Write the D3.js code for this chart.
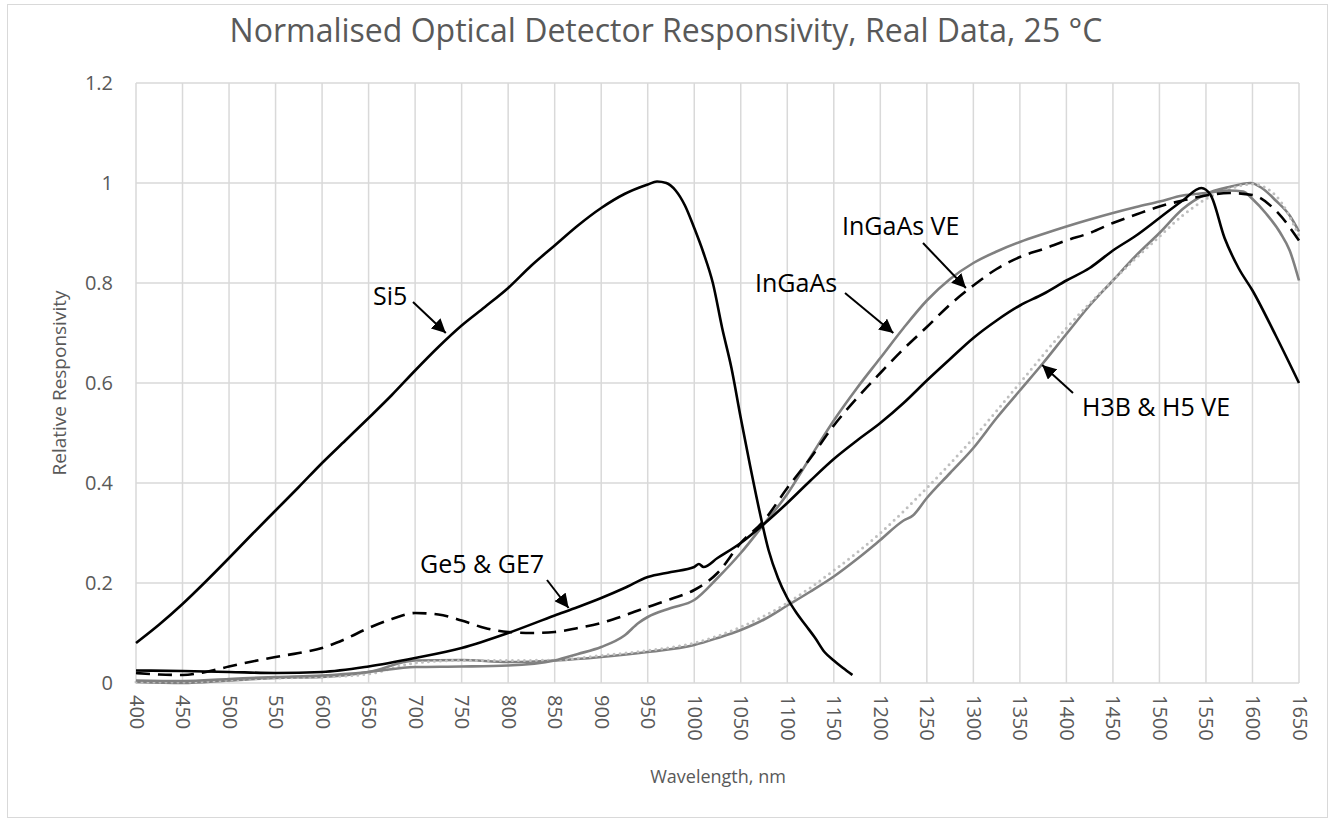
<!DOCTYPE html>
<html>
<head>
<meta charset="utf-8">
<script src="https://cdn.jsdelivr.net/npm/d3@7"></script>
<style>
    body { margin: 0; background: #fff; }
    text { font-family: "Open Sans", sans-serif; }
</style>
</head>
<body>
<script>
//x axis categories (nm) and y ticks
var xTicks = d3.range(400, 1651, 50);
var yTicks = [0, 0.2, 0.4, 0.6, 0.8, 1, 1.2];

//Si5
var siWl  = [400, 425, 450, 475, 500, 525, 550, 575, 600, 625, 650, 675, 700, 725, 750, 775, 800, 825, 850, 875, 900, 925, 950, 960, 970, 980, 990, 1000, 1010, 1020, 1030, 1040, 1050, 1060, 1070, 1080, 1090, 1100, 1110, 1120, 1130, 1140, 1150, 1160, 1170];
var siVal = [0.08, 0.117, 0.158, 0.203, 0.25, 0.298, 0.345, 0.392, 0.44, 0.485, 0.53, 0.576, 0.625, 0.672, 0.715, 0.752, 0.79, 0.835, 0.875, 0.915, 0.95, 0.978, 0.997, 1.003, 1.0, 0.985, 0.955, 0.91, 0.86, 0.8, 0.71, 0.63, 0.53, 0.435, 0.345, 0.265, 0.21, 0.17, 0.14, 0.115, 0.09, 0.062, 0.045, 0.03, 0.016];

//Ge5 & GE7
var geWl  = [400, 450, 500, 550, 600, 650, 700, 750, 800, 850, 875, 900, 925, 950, 975, 1000, 1005, 1010, 1025, 1050, 1075, 1100, 1125, 1150, 1175, 1200, 1225, 1250, 1275, 1300, 1325, 1350, 1375, 1400, 1425, 1450, 1475, 1500, 1525, 1545, 1555, 1570, 1585, 1600, 1625, 1650];
var geVal = [0.025, 0.024, 0.022, 0.02, 0.022, 0.033, 0.05, 0.07, 0.1, 0.135, 0.152, 0.17, 0.19, 0.212, 0.222, 0.232, 0.238, 0.232, 0.25, 0.28, 0.318, 0.36, 0.405, 0.448, 0.485, 0.52, 0.56, 0.605, 0.648, 0.69, 0.725, 0.755, 0.778, 0.805, 0.83, 0.865, 0.895, 0.93, 0.965, 0.99, 0.976, 0.89, 0.83, 0.785, 0.695, 0.6];

//InGaAs VE (dashed)
var veWl  = [400, 425, 450, 475, 500, 525, 550, 575, 600, 625, 650, 675, 700, 725, 750, 775, 800, 825, 850, 875, 900, 925, 950, 975, 1000, 1025, 1050, 1075, 1100, 1125, 1150, 1175, 1200, 1225, 1250, 1275, 1300, 1325, 1350, 1375, 1400, 1425, 1450, 1475, 1500, 1525, 1550, 1575, 1600, 1625, 1650];
var veVal = [0.02, 0.017, 0.016, 0.022, 0.033, 0.043, 0.052, 0.06, 0.07, 0.088, 0.11, 0.128, 0.14, 0.137, 0.125, 0.11, 0.102, 0.1, 0.102, 0.11, 0.12, 0.135, 0.152, 0.168, 0.186, 0.22, 0.28, 0.325, 0.39, 0.45, 0.515, 0.57, 0.62, 0.668, 0.712, 0.757, 0.795, 0.828, 0.852, 0.868, 0.885, 0.9, 0.92, 0.937, 0.953, 0.965, 0.975, 0.98, 0.976, 0.945, 0.885];

//InGaAs
var igWl  = [400, 450, 500, 550, 600, 650, 700, 750, 800, 850, 875, 900, 925, 940, 950, 975, 1000, 1025, 1050, 1075, 1100, 1125, 1150, 1175, 1200, 1225, 1250, 1275, 1300, 1325, 1350, 1375, 1400, 1425, 1450, 1475, 1500, 1525, 1550, 1575, 1590, 1600, 1615, 1630, 1640, 1650];
var igVal = [0.005, 0.004, 0.008, 0.012, 0.015, 0.022, 0.032, 0.033, 0.035, 0.045, 0.058, 0.072, 0.095, 0.12, 0.132, 0.15, 0.166, 0.21, 0.26, 0.318, 0.378, 0.452, 0.525, 0.59, 0.65, 0.71, 0.765, 0.808, 0.84, 0.863, 0.882, 0.898, 0.913, 0.927, 0.94, 0.952, 0.963, 0.975, 0.98, 0.985, 0.983, 0.968, 0.938, 0.9, 0.865, 0.805];

//H3B
var h3Wl  = [400, 450, 500, 550, 600, 650, 700, 750, 800, 850, 900, 950, 1000, 1025, 1050, 1075, 1100, 1125, 1150, 1175, 1200, 1225, 1235, 1250, 1275, 1300, 1325, 1350, 1375, 1400, 1425, 1450, 1475, 1500, 1525, 1550, 1575, 1598, 1610, 1625, 1640, 1650];
var h3Val = [0.002, 0.0, 0.005, 0.01, 0.012, 0.022, 0.045, 0.046, 0.042, 0.045, 0.052, 0.062, 0.076, 0.09, 0.106, 0.127, 0.155, 0.183, 0.213, 0.248, 0.286, 0.325, 0.335, 0.37, 0.42, 0.47, 0.53, 0.585, 0.64, 0.698, 0.755, 0.805, 0.855, 0.9, 0.948, 0.978, 0.992, 1.0, 0.99, 0.965, 0.935, 0.903];

//H5 VE (dotted)
var h5Wl  = [400, 450, 500, 550, 600, 650, 700, 750, 800, 850, 900, 950, 1000, 1050, 1100, 1150, 1200, 1250, 1300, 1350, 1400, 1450, 1475, 1500, 1525, 1550, 1575, 1600, 1625, 1650];
var h5Val = [0.002, 0.002, 0.006, 0.01, 0.012, 0.018, 0.04, 0.045, 0.045, 0.046, 0.055, 0.065, 0.08, 0.112, 0.16, 0.225, 0.3, 0.39, 0.49, 0.6, 0.71, 0.805, 0.85, 0.893, 0.935, 0.968, 0.988, 0.998, 0.975, 0.895];

var w = 1335, h = 824;
var plotLeft = 136, plotRight = 1299, plotTop = 83, plotBottom = 683;

var svg = d3.select("body")
    .append("svg")
    .attr("width", w)
    .attr("height", h);

//chart area border
svg.append("rect")
    .attr("x", 7.5)
    .attr("y", 4.5)
    .attr("width", 1320)
    .attr("height", 813)
    .style("fill", "#fff")
    .style("stroke", "#d9d9d9");

var x = d3.scaleLinear().domain([400, 1650]).range([plotLeft, plotRight]);
var y = d3.scaleLinear().domain([0, 1.2]).range([plotBottom, plotTop]);

//gridlines
svg.append("g").selectAll("line")
    .data(yTicks)
    .enter()
    .append("line")
    .attr("x1", plotLeft).attr("x2", plotRight)
    .attr("y1", function(d){ return y(d); })
    .attr("y2", function(d){ return y(d); })
    .style("stroke", "#d9d9d9")
    .style("stroke-width", 1.5);

svg.append("g").selectAll("line")
    .data(xTicks)
    .enter()
    .append("line")
    .attr("y1", plotTop).attr("y2", plotBottom)
    .attr("x1", function(d){ return x(d); })
    .attr("x2", function(d){ return x(d); })
    .style("stroke", "#d9d9d9")
    .style("stroke-width", 1.5);

//y axis labels
var yAxis = svg.append("g")
    .attr("transform", "translate(" + (plotLeft - 23) + ",0)")
    .call(d3.axisLeft(y).tickValues(yTicks).tickSize(0).tickPadding(0)
        .tickFormat(function(d){ return String(+d.toFixed(1)); }));
yAxis.select(".domain").remove();
yAxis.selectAll("text")
    .style("font-size", "20px")
    .style("fill", "#595959")
    .style("font-family", "'Open Sans', sans-serif");

//x axis labels, rotated
var xAxis = svg.append("g")
    .attr("transform", "translate(0," + plotBottom + ")")
    .call(d3.axisBottom(x).tickValues(xTicks).tickSize(0).tickFormat(d3.format("d")));
xAxis.select(".domain").remove();
xAxis.selectAll("text")
    .attr("transform", "rotate(90)")
    .attr("x", 12)
    .attr("y", 0)
    .attr("dy", "0.35em")
    .attr("text-anchor", "start")
    .style("font-size", "20px")
    .style("fill", "#595959")
    .style("font-family", "'Open Sans', sans-serif");

var line = d3.line()
    .x(function(d){ return x(d[0]); })
    .y(function(d){ return y(d[1]); })
    .curve(d3.curveMonotoneX);

function pairs(a, b){
    return a.map(function(v, i){ return [v, b[i]]; });
}

var series = [
    {wl: h3Wl, val: h3Val, color: "#808080", width: 2.6, dash: null},
    {wl: h5Wl, val: h5Val, color: "#bfbfbf", width: 3, dash: "0,6"},
    {wl: igWl, val: igVal, color: "#808080", width: 2.6, dash: null},
    {wl: veWl, val: veVal, color: "#000", width: 2.6, dash: "14,8"},
    {wl: geWl, val: geVal, color: "#000", width: 2.6, dash: null},
    {wl: siWl, val: siVal, color: "#000", width: 2.6, dash: null}
];

svg.append("g").selectAll("path")
    .data(series)
    .enter()
    .append("path")
    .attr("d", function(d){ return line(pairs(d.wl, d.val)); })
    .style("fill", "none")
    .style("stroke", function(d){ return d.color; })
    .style("stroke-width", function(d){ return d.width; })
    .style("stroke-dasharray", function(d){ return d.dash; })
    .style("stroke-linecap", function(d){ return d.dash === "0,6" ? "round" : "butt"; })
    .style("stroke-linejoin", "round");

//arrowhead
svg.append("defs").append("marker")
    .attr("id", "arrow")
    .attr("viewBox", "0 0 10 10")
    .attr("refX", 10)
    .attr("refY", 5)
    .attr("markerWidth", 7)
    .attr("markerHeight", 7)
    .attr("markerUnits", "strokeWidth")
    .attr("orient", "auto")
    .append("path")
    .attr("d", "M0,0L10,5L0,10Z")
    .style("fill", "#000");

//annotations: label, text position, arrow start and tip (wavelength, value)
var notes = [
    {text: "Si5", tx: 373, ty: 305, x1: 413, y1: 302, wl: 733, v: 0.7},
    {text: "InGaAs", tx: 755, ty: 292, x1: 845, y1: 293, wl: 1214, v: 0.7},
    {text: "InGaAs VE", tx: 842, ty: 235, x1: 923, y1: 243, wl: 1292, v: 0.79},
    {text: "H3B & H5 VE", tx: 1082, ty: 416, x1: 1073, y1: 393, wl: 1374, v: 0.636},
    {text: "Ge5 & GE7", tx: 420, ty: 573, x1: 547, y1: 580, wl: 865, v: 0.15}
];

svg.append("g").selectAll("text")
    .data(notes)
    .enter()
    .append("text")
    .attr("x", function(d){ return d.tx; })
    .attr("y", function(d){ return d.ty; })
    .style("font-size", "25px")
    .style("fill", "#000")
    .text(function(d){ return d.text; });

svg.append("g").selectAll("line")
    .data(notes)
    .enter()
    .append("line")
    .attr("x1", function(d){ return d.x1; })
    .attr("y1", function(d){ return d.y1; })
    .attr("x2", function(d){ return x(d.wl); })
    .attr("y2", function(d){ return y(d.v); })
    .style("stroke", "#000")
    .style("stroke-width", 2)
    .attr("marker-end", "url(#arrow)");

//titles
svg.append("text")
    .attr("x", 666)
    .attr("y", 42)
    .attr("text-anchor", "middle")
    .style("font-size", "32px")
    .style("fill", "#595959")
    .text("Normalised Optical Detector Responsivity, Real Data, 25 °C");

svg.append("text")
    .attr("x", 718)
    .attr("y", 783)
    .attr("text-anchor", "middle")
    .style("font-size", "18px")
    .style("fill", "#595959")
    .text("Wavelength, nm");

svg.append("text")
    .attr("transform", "translate(66,383) rotate(-90)")
    .attr("text-anchor", "middle")
    .style("font-size", "19px")
    .style("fill", "#595959")
    .text("Relative Responsivity");
</script>
</body>
</html>
